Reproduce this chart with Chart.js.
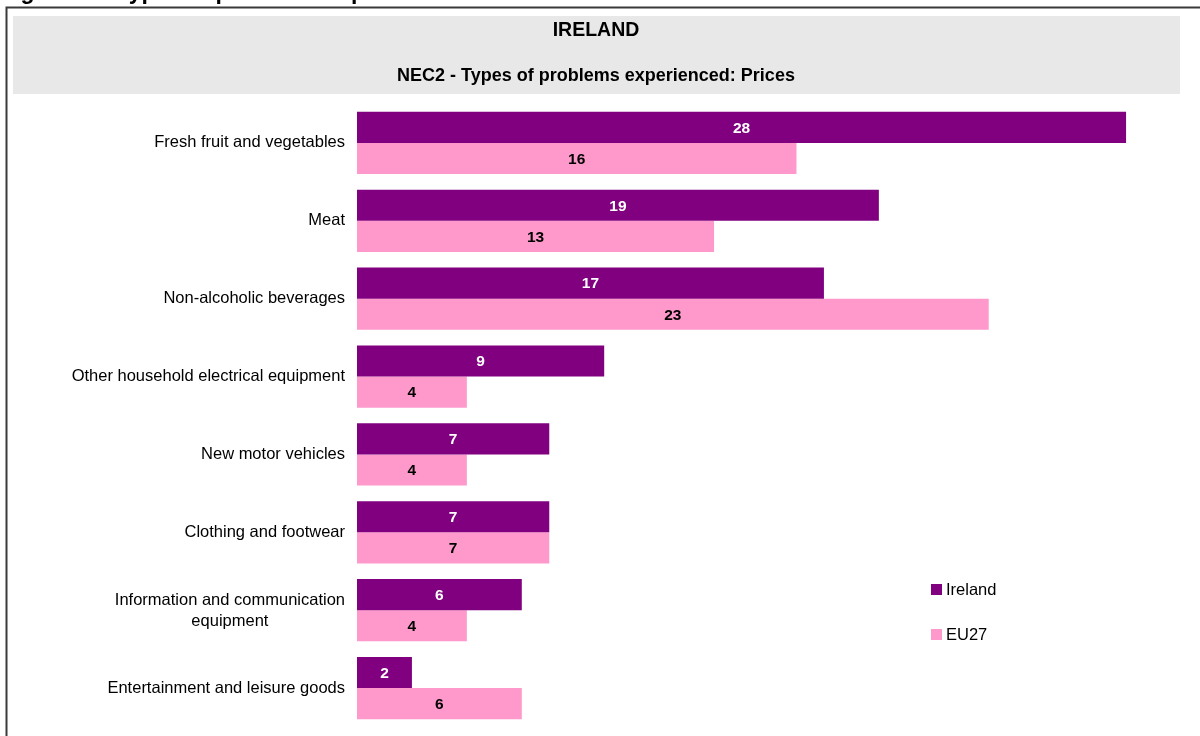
<!DOCTYPE html>
<html>
<head>
<meta charset="utf-8">
<script src="https://cdn.jsdelivr.net/npm/chart.js@4/dist/chart.umd.min.js"></script>
<style>
    html, body { margin: 0; padding: 0; background: #fff; }
    #wrap { position: relative; width: 1200px; height: 736px; }
</style>
</head>
<body>
<div id="wrap"><canvas id="js--chart-1" width="1200" height="736"></canvas></div>
<script>
const labels = [
    "Fresh fruit and vegetables",
    "Meat",
    "Non-alcoholic beverages",
    ["Other household electrical equipment"],
    "New motor vehicles",
    "Clothing and footwear",
    ["Information and communication", "equipment"],
    "Entertainment and leisure goods"
];

const ireland = [28, 19, 17, 9, 7, 7, 6, 2];
const eu27 = [16, 13, 23, 4, 4, 7, 4, 6];

const FONT = "'Liberation Sans', Arial, sans-serif";

// frame, grey header box and the titles
const frame = {
    id: 'frame',
    beforeDraw(chart) {
        const ctx = chart.ctx;
        ctx.save();
        ctx.fillStyle = '#fff';
        ctx.fillRect(0, 0, chart.width, chart.height);

        // heading above the frame (cut off at the top)
        ctx.fillStyle = '#000';
        ctx.font = "bold 23px " + FONT;
        ctx.textAlign = 'left';
        ctx.textBaseline = 'alphabetic';
        ctx.fillText("Figure 12: Types of problems experienced: Prices", 0, -1);

        ctx.strokeStyle = '#3a3a3a';
        ctx.lineWidth = 2;
        ctx.beginPath();
        ctx.moveTo(1200, 7.5);
        ctx.lineTo(6.5, 7.5);
        ctx.lineTo(6.5, 736);
        ctx.stroke();

        ctx.fillStyle = '#e8e8e8';
        ctx.fillRect(13, 16, 1167, 78);

        ctx.fillStyle = '#000';
        ctx.textAlign = 'center';
        ctx.textBaseline = 'middle';
        ctx.font = "bold 19.5px " + FONT;
        ctx.fillText("IRELAND", 596, 31);
        ctx.font = "bold 18px " + FONT;
        ctx.fillText("NEC2 - Types of problems experienced: Prices", 596, 76);
        ctx.restore();
    }
};

// category names, value labels and legend
const labelsPlugin = {
    id: 'labelsPlugin',
    afterDatasetsDraw(chart) {
        const ctx = chart.ctx;
        const y = chart.scales.y;
        ctx.save();
        ctx.font = "16.5px " + FONT;
        ctx.fillStyle = '#000';
        ctx.textBaseline = 'middle';
        labels.forEach(function (lab, i) {
            const py = y.getPixelForValue(i);
            if (Array.isArray(lab) && lab.length > 1) {
                ctx.textAlign = 'center';
                const w = ctx.measureText(lab[0]).width;
                const cx = 345 - w / 2;
                ctx.fillText(lab[0], cx, py - 10);
                ctx.fillText(lab[1], cx, py + 11);
            } else {
                ctx.textAlign = 'right';
                ctx.fillText(Array.isArray(lab) ? lab[0] : lab, 345, py);
            }
        });

        ctx.font = "bold 15.5px " + FONT;
        ctx.textAlign = 'center';
        chart.data.datasets.forEach(function (ds, di) {
            chart.getDatasetMeta(di).data.forEach(function (bar, i) {
                ctx.fillStyle = di === 0 ? '#fff' : '#000';
                ctx.fillText(ds.data[i], (bar.x + bar.base) / 2, bar.y + 1);
            });
        });

        ctx.font = "16.5px " + FONT;
        ctx.textAlign = 'left';
        chart.data.datasets.forEach(function (ds, di) {
            const ly = 589 + di * 45;
            ctx.fillStyle = ds.backgroundColor;
            ctx.fillRect(931, ly - 5, 11, 11);
            ctx.fillStyle = '#000';
            ctx.fillText(ds.label, 946, ly + 1);
        });
        ctx.restore();
    }
};

const data = {
    labels: labels,
    datasets: [
        {
            label: "Ireland",
            data: ireland,
            backgroundColor: '#800080',
            categoryPercentage: 0.8,
            barPercentage: 1.0
        },
        {
            label: "EU27",
            data: eu27,
            backgroundColor: '#ff99cc',
            categoryPercentage: 0.8,
            barPercentage: 1.0
        }
    ]
};

const config = {
    type: 'bar',
    data: data,
    options: {
        indexAxis: 'y',
        responsive: false,
        animation: false,
        layout: { padding: { top: 104, bottom: 9, left: 0, right: 19 } },
        plugins: {
            legend: { display: false },
            tooltip: { enabled: false }
        },
        scales: {
            x: {
                display: false,
                min: 0,
                max: 30
            },
            y: {
                ticks: { display: false },
                grid: { display: false, drawTicks: false },
                border: { display: false },
                afterFit: function (scale) { scale.width = 357; }
            }
        }
    },
    plugins: [frame, labelsPlugin]
};

new Chart(document.getElementById("js--chart-1"), config);
</script>
</body>
</html>
